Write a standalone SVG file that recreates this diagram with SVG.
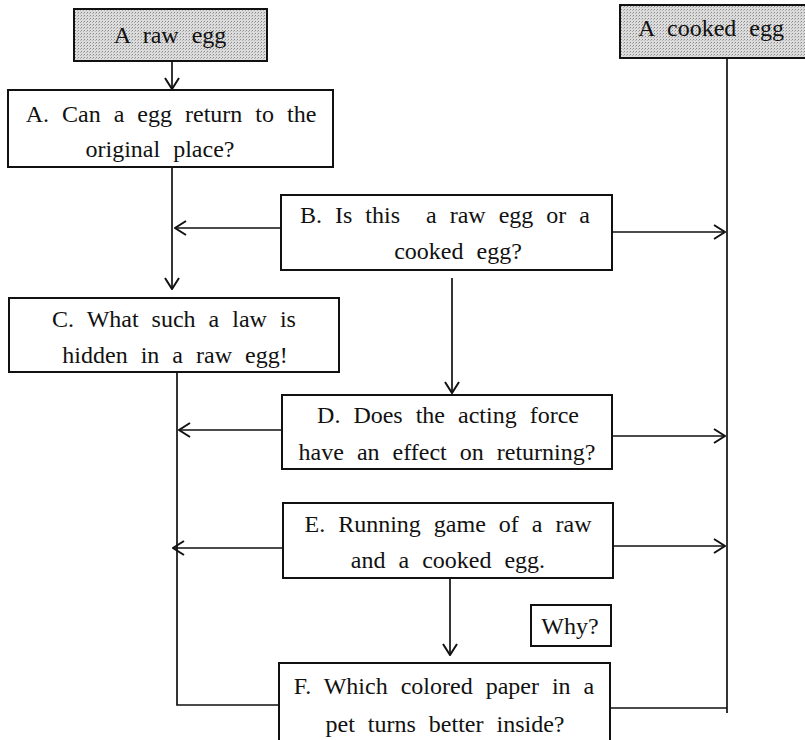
<svg xmlns="http://www.w3.org/2000/svg" width="805" height="740" viewBox="0 0 805 740">
  <style>
    .box { fill: #ffffff; stroke: #111111; stroke-width: 2; }
    .shade { fill: url(#dots); stroke: #111111; stroke-width: 2; }
    .t { font-family: "Liberation Serif", "Times New Roman", serif; font-size: 24px; fill: #111111; word-spacing: 7px; }
    .m { text-anchor: middle; }
    .c { fill: none; stroke: #111111; stroke-width: 1.7; }
  </style>
  <defs>
    <pattern id="dots" width="3" height="3" patternUnits="userSpaceOnUse">
      <rect width="3" height="3" fill="#dcdcdc"/>
      <rect width="1" height="1" fill="#8a8a8a"/>
      <rect x="2" y="1" width="1" height="1" fill="#b0b0b0"/>
    </pattern>
    <marker id="arr" markerWidth="13" markerHeight="16" refX="12" refY="8" orient="auto" markerUnits="userSpaceOnUse">
      <path d="M1,1 L12,8 L1,15" fill="none" stroke="#111111" stroke-width="2"/>
    </marker>
  </defs>

  <g id="connectors">
    <line class="c" x1="172" y1="61" x2="172" y2="89" marker-end="url(#arr)"/>
    <line class="c" x1="172" y1="167" x2="172" y2="289" marker-end="url(#arr)"/>
    <line class="c" x1="281" y1="228" x2="175" y2="228" marker-end="url(#arr)"/>
    <line class="c" x1="612" y1="232" x2="725" y2="232" marker-end="url(#arr)"/>
    <line class="c" x1="452" y1="278" x2="452" y2="393" marker-end="url(#arr)"/>
    <polyline class="c" points="177,372 177,705 279,705"/>
    <line class="c" x1="282" y1="430" x2="179" y2="430" marker-end="url(#arr)"/>
    <line class="c" x1="612" y1="436" x2="725" y2="436" marker-end="url(#arr)"/>
    <line class="c" x1="283" y1="548" x2="173" y2="548" marker-end="url(#arr)"/>
    <line class="c" x1="613" y1="546" x2="725" y2="546" marker-end="url(#arr)"/>
    <line class="c" x1="450" y1="578" x2="450" y2="655" marker-end="url(#arr)"/>
    <polyline class="c" points="727,58 727,713"/>
    <line class="c" x1="610" y1="708" x2="727" y2="708"/>
  </g>

  <g id="raw-egg">
    <rect class="shade" x="74" y="9" width="193" height="52"/>
    <text class="t m" x="170" y="43">A raw egg</text>
  </g>

  <g id="cooked-egg">
    <rect class="shade" x="620" y="5" width="190" height="53"/>
    <text class="t" x="638" y="36">A cooked egg</text>
  </g>

  <g id="node-a">
    <rect class="box" x="8" y="90" width="325" height="77"/>
    <text class="t m" x="171" y="122">A. Can a egg return to the</text>
    <text class="t m" x="160" y="157">original place?</text>
  </g>

  <g id="node-b">
    <rect class="box" x="281" y="195" width="331" height="75"/>
    <text class="t m" x="445" y="223" xml:space="preserve">B. Is this  a raw egg or a</text>
    <text class="t m" x="458" y="259">cooked egg?</text>
  </g>

  <g id="node-c">
    <rect class="box" x="9" y="298" width="330" height="74"/>
    <text class="t m" x="174" y="327">C. What such a law is</text>
    <text class="t m" x="175" y="363">hidden in a raw egg!</text>
  </g>

  <g id="node-d">
    <rect class="box" x="282" y="395" width="330" height="74"/>
    <text class="t m" x="448" y="423">D. Does the acting force</text>
    <text class="t m" x="447" y="460">have an effect on returning?</text>
  </g>

  <g id="node-e">
    <rect class="box" x="283" y="503" width="330" height="75"/>
    <text class="t m" x="448" y="532">E. Running game of a raw</text>
    <text class="t m" x="448" y="568">and a cooked egg.</text>
  </g>

  <g id="why">
    <rect class="box" x="531" y="605" width="80" height="41"/>
    <text class="t m" x="570" y="634">Why?</text>
  </g>

  <g id="node-f">
    <rect class="box" x="279" y="663" width="331" height="84"/>
    <text class="t m" x="444" y="694">F. Which colored paper in a</text>
    <text class="t m" x="445" y="732">pet turns better inside?</text>
  </g>
</svg>
